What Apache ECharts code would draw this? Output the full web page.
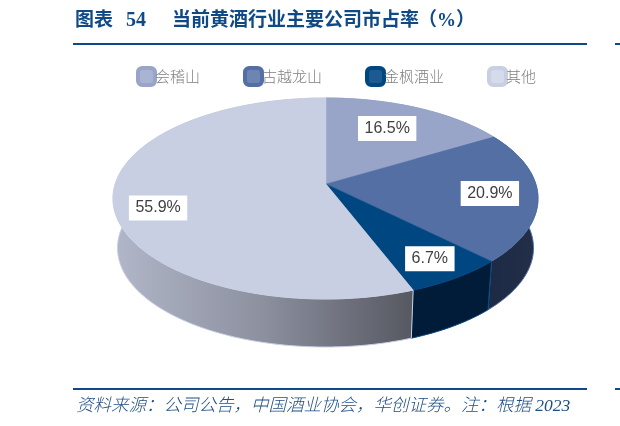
<!DOCTYPE html>
<html><head><meta charset="utf-8">
<style>html,body{margin:0;padding:0;background:#fff}#c{width:620px;height:426px}</style>
<script src="https://cdn.jsdelivr.net/npm/echarts@6/dist/echarts.min.js"></script>
</head><body><div id="c"></div>
<script>
const categories = ['会稽山','古越龙山','金枫酒业','其他'];
const shares = [16.5,20.9,6.7,55.9];
const titleHead = '图表';
const titleNumber = '54';
const titleMain = '当前黄酒行业主要公司市占率';
const titleUnit = '（%）';
const sourceText = '资料来源：公司公告，中国酒业协会，华创证券。注：根据 2023';

const topColors = ['#98A5C9','#536FA3','#004681','#C8CFE3'];
const legendInner = ['#A9B4D2','#6C85B2','#1C5A90','#D6DBEB'];
const NAVY = '#0F4A86';
// drum geometry
const G = {cx:325.5, cy:198.5, rx:212.5, ry:100.5, ax:326, ay:184,
           bcx:325.5, bcy:248, brx:208, bry:99};
const labelK = [0.6,0.777,0.89,0.804];
const labelNudge = [[-2,-3],[0,0],[0,0],[0,9]];

const total = shares.reduce((a,b)=>a+b,0);
function startOf(i){let s=0;for(let k=0;k<i;k++)s+=shares[k];return s/total*Math.PI*2;}
function dirOf(t){return [G.rx*Math.sin(t),-G.ry*Math.cos(t)];}
function rimTop(t){
  const [dx,dy]=dirOf(t);
  const ox=(G.ax-G.cx)/G.rx, oy=(G.ay-G.cy)/G.ry, ux=dx/G.rx, uy=dy/G.ry;
  const a=ux*ux+uy*uy,b=2*(ox*ux+oy*uy),c=ox*ox+oy*oy-1;
  const s=(-b+Math.sqrt(b*b-4*a*c))/(2*a);
  return [G.ax+s*dx,G.ay+s*dy];
}
function rimBottom(t){
  const p=rimTop(t);
  return [G.bcx+(p[0]-G.cx)*G.brx/G.rx, G.bcy+(p[1]-G.cy)*G.bry/G.ry];
}
function arcPts(fn,a,b){const n=Math.max(2,Math.ceil((b-a)/0.015));const r=[];for(let i=0;i<=n;i++)r.push(fn(a+(b-a)*i/n));return r;}

const sideFill = [
  '#5a6f96',
  new echarts.graphic.LinearGradient(0,0,1,0,[{offset:0,color:'#1C2A45'},{offset:1,color:'#242F49'}]),
  '#001C38',
  new echarts.graphic.LinearGradient(0,0,1,0,[{offset:0,color:'#B2B7C9'},{offset:0.5,color:'#8C909F'},{offset:1,color:'#565861'}])
];

function makeRender(i){
  return function(){
    const a=startOf(i), b=startOf(i+1), mid=(a+b)/2;
    const top=arcPts(rimTop,a,b), bot=arcPts(rimBottom,a,b);
    const [mx,my]=dirOf(mid);
    return {type:'group',children:[
      {type:'polygon',z2:1,shape:{points:top.concat(bot.slice().reverse())},
       style:{fill:sideFill[i],stroke:topColors[i],lineWidth:1}},
      {type:'polygon',z2:10,shape:{points:[[G.ax,G.ay]].concat(top)},
       style:{fill:topColors[i],stroke:topColors[i],lineWidth:0.5}},
      {type:'text',z2:20,x:G.ax+labelK[i]*mx+labelNudge[i][0],y:G.ay+labelK[i]*my+labelNudge[i][1],
       style:{text:shares[i].toFixed(1)+'%',fill:'#404040',font:'16px "Liberation Sans"',
              align:'center',verticalAlign:'middle',backgroundColor:'#fff',padding:[5,6.5,4,6.5]}}
    ]};
  };
}

const chart = echarts.init(document.getElementById('c'),null,{renderer:'canvas'});
const F = '"Liberation Serif","Noto Sans CJK SC"';
function txt(x,y,text,size,extra){return Object.assign({type:'text',x:x,y:y,style:Object.assign({text:text,fill:NAVY,font:'bold '+size+'px '+F,textVerticalAlign:'middle',verticalAlign:'middle'},extra||{})},{});}
chart.setOption({
  animation:false,
  legend:{left:131,top:61,itemGap:43,itemWidth:17,itemHeight:17,icon:'roundRect',
    textStyle:{color:'#7F7F7F',fontSize:15,fontWeight:300,fontFamily:'"Noto Sans CJK SC"',padding:[0,0,0,-5]},
    data:categories.map((n,i)=>({name:n,itemStyle:{color:legendInner[i],borderColor:topColors[i],borderWidth:4}}))},
  graphic:[
    txt(75,21,titleHead,19),
    txt(126,21,titleNumber,20),
    txt(172,21,titleMain,19),
    txt(418,21,titleUnit,19),
    {type:'rect',shape:{x:73,y:43,width:514,height:2},style:{fill:NAVY}},
    {type:'rect',shape:{x:615,y:43,width:5,height:2},style:{fill:NAVY}},
    {type:'rect',shape:{x:73,y:388,width:514,height:2},style:{fill:NAVY}},
    {type:'rect',shape:{x:615,y:388,width:5,height:2},style:{fill:NAVY}},
    {type:'text',x:76,y:406,style:{text:sourceText,fill:'#1F4E82',font:'italic 300 17.5px '+F,verticalAlign:'middle'}}
  ],
  series:categories.map((n,i)=>({
    type:'custom',name:n,coordinateSystem:'none',silent:true,
    itemStyle:{color:topColors[i]},
    data:[[shares[i]]],renderItem:makeRender(i)
  }))
});
</script></body></html>
